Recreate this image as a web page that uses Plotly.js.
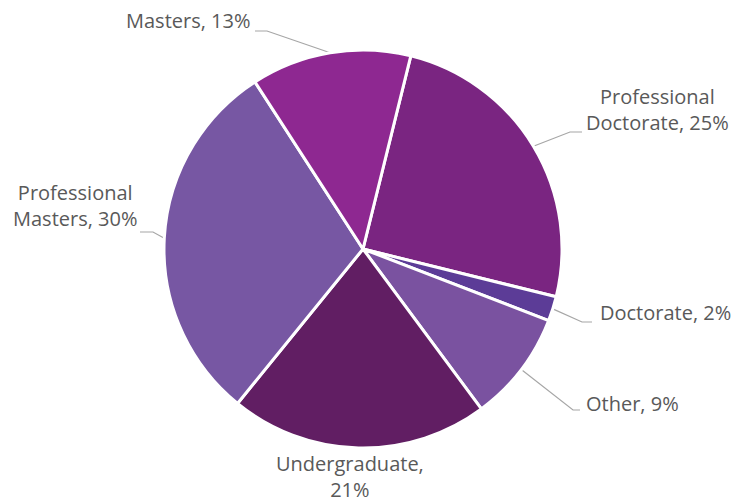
<!DOCTYPE html>
<html><head><meta charset="utf-8">
<script src="https://cdn.plot.ly/plotly-3.0.1.min.js"></script>
<style>html,body{margin:0;padding:0;background:#fff}</style>
</head><body><div id="chart" style="width:734px;height:502px"></div>
<script>
// ---- data ----
const categories = ["Professional Doctorate","Doctorate","Other","Undergraduate","Professional Masters","Masters"];
const shares = [25,2,9,21,30,13];
const sliceColors = ["#7A2581","#5C3C97","#7A52A0","#611E63","#7757A3","#8E2891"];

// ---- geometry / layout config ----
const W=734, H=502;
const CX=363, CY=249, R=199;
const ROT=13.9;
const labelLayout = [
  {x:657, y:109, xa:'center', brk:'name',  leader:[[582,132],[570,132]]},
  {x:599, y:312, xa:'left',   brk:'none',  leader:[[592,322],[582,322]]},
  {x:585, y:403, xa:'left',   brk:'none',  leader:[[580,410],[573,410]]},
  {x:350, y:476, xa:'center', brk:'comma', leader:null},
  {x:75,  y:205, xa:'center', brk:'name',  leader:[[140,232],[153,232]]},
  {x:251, y:21,  xa:'right',  brk:'none',  leader:[[255,31],[267,31]]}
];
const FONT = {family:'"Open Sans", sans-serif', size:20, color:'#595959'};

const px = x => x / W;
const py = y => 1 - y / H;

const total = shares.reduce((a,b)=>a+b,0);
let cum = 0;
const annotations = [], shapes = [];
categories.forEach((name,i)=>{
  const v = shares[i];
  const mid = (ROT + (cum + v/2) / total * 360) * Math.PI/180;
  cum += v;
  const pct = Math.round(v/total*100) + '%';
  const cfg = labelLayout[i];
  let text;
  if (cfg.brk === 'name') {
    const sp = name.indexOf(' ');
    text = name.slice(0,sp) + '<br>' + name.slice(sp+1) + ', ' + pct;
  } else if (cfg.brk === 'comma') {
    text = name + ',<br>' + pct;
  } else {
    text = name + ', ' + pct;
  }
  annotations.push({
    xref:'paper', yref:'paper', x:px(cfg.x), y:py(cfg.y),
    xanchor:cfg.xa, yanchor:'middle', align:'center', borderpad:0,
    text:text, showarrow:false, font:FONT
  });
  if (cfg.leader) {
    const ex = CX + R*Math.sin(mid), ey = CY - R*Math.cos(mid);
    const p0 = cfg.leader[0], p1 = cfg.leader[1];
    shapes.push({
      type:'path', xref:'paper', yref:'paper', layer:'below',
      path:`M ${px(p0[0])} ${py(p0[1])} L ${px(p1[0])} ${py(p1[1])} L ${px(ex)} ${py(ey)}`,
      line:{color:'#A6A6A6', width:1.2}
    });
  }
});

const trace = {
  type:'pie', labels:categories, values:shares, sort:false,
  direction:'clockwise', rotation:ROT,
  marker:{colors:sliceColors, line:{color:'#ffffff', width:3}},
  textinfo:'none', hoverinfo:'skip',
  domain:{x:[px(CX-R), px(CX+R)], y:[py(CY+R), py(CY-R)]}
};

Plotly.newPlot('chart',[trace],{
  width:W, height:H, margin:{l:0,r:0,t:0,b:0},
  showlegend:false, paper_bgcolor:'#ffffff',
  annotations:annotations, shapes:shapes
},{displayModeBar:false, staticPlot:true});
</script></body></html>
